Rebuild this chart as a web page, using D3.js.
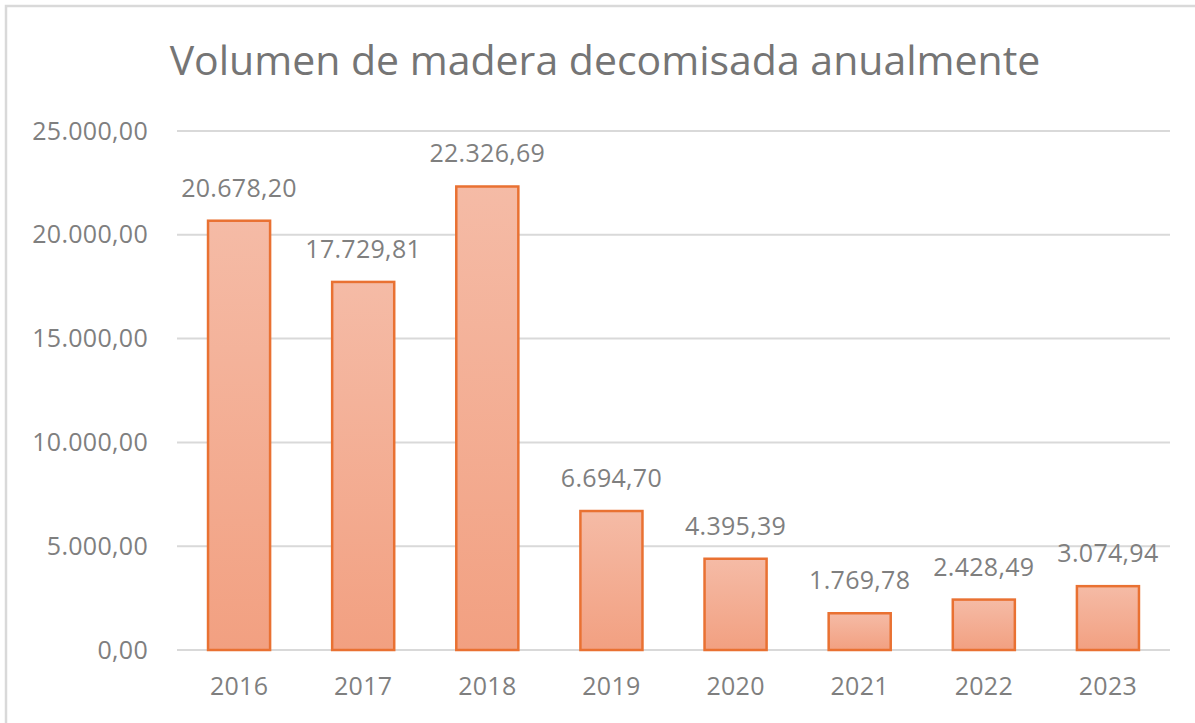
<!DOCTYPE html>
<html>
<head>
<meta charset="utf-8">
<script src="https://cdn.jsdelivr.net/npm/d3@7"></script>
<style>
  body { margin: 0; background: #fff; }
  svg { display: block; font-family: "Open Sans", "Noto Sans", sans-serif; }
</style>
</head>
<body>
<svg width="1195" height="723"></svg>
<script>
// data
const years = ['2016','2017','2018','2019','2020','2021','2022','2023'];
const volumes = [20678.20, 17729.81, 22326.69, 6694.70, 4395.39, 1769.78, 2428.49, 3074.94];
const yTicks = [0, 5000, 10000, 15000, 20000, 25000];

const svg = d3.select('svg');
const txtColor = '#7f7f7f';

// number format es: 25.000,00
const esLocale = d3.formatLocale({decimal: ',', thousands: '.', grouping: [3], currency: ['', '']});
const fmt = esLocale.format(',.2f');

// outer frame (only top/left visible in the reference)
svg.append('rect')
  .attr('x', 6).attr('y', 6)
  .attr('width', 1200).attr('height', 730)
  .attr('fill', '#fff')
  .attr('stroke', '#d9d9d9')
  .attr('stroke-width', 2.5);

svg.append('text')
  .attr('x', 605).attr('y', 75)
  .attr('text-anchor', 'middle')
  .attr('fill', '#757575')
  .attr('font-size', 41)
  .text('Volumen de madera decomisada anualmente');

const plotL = 177, plotR = 1170, plotT = 131, plotB = 650;

const y = d3.scaleLinear().domain([0, 25000]).range([plotB, plotT]);
const x = d3.scaleBand().domain(years).range([plotL, plotR])
  .paddingInner(0.5).paddingOuter(0.25);

// gradient for bars
const defs = svg.append('defs');
const grad = defs.append('linearGradient')
  .attr('id', 'barGrad')
  .attr('x1', 0).attr('y1', 0).attr('x2', 0).attr('y2', 1);
grad.append('stop').attr('offset', '0%').attr('stop-color', '#f5bba6');
grad.append('stop').attr('offset', '100%').attr('stop-color', '#f2a081');

// gridlines
svg.append('g')
  .selectAll('line')
  .data(yTicks)
  .join('line')
  .attr('x1', plotL).attr('x2', plotR)
  .attr('y1', d => y(d)).attr('y2', d => y(d))
  .attr('stroke', '#d9d9d9')
  .attr('stroke-width', 2);

// y axis labels
const yAxis = svg.append('g')
  .attr('transform', `translate(${plotL - 29},0)`)
  .call(d3.axisLeft(y).tickValues(yTicks).tickFormat(fmt).tickSize(0).tickPadding(0));
yAxis.select('.domain').remove();
yAxis.selectAll('text')
  .attr('fill', txtColor)
  .attr('font-size', 25)
  .attr('letter-spacing', 0.3)
  .attr('font-family', '"Open Sans", "Noto Sans", sans-serif');

// x axis labels
const xAxis = svg.append('g')
  .attr('transform', `translate(0,${plotB})`)
  .call(d3.axisBottom(x).tickSize(0).tickPadding(0));
xAxis.select('.domain').remove();
xAxis.selectAll('text')
  .attr('fill', txtColor)
  .attr('font-size', 25)
  .attr('letter-spacing', 0.3)
  .attr('y', 45)
  .attr('dy', 0)
  .attr('font-family', '"Open Sans", "Noto Sans", sans-serif');

// bars
svg.append('g')
  .selectAll('rect')
  .data(volumes)
  .join('rect')
  .attr('x', (d, i) => x(years[i]))
  .attr('y', d => y(d))
  .attr('width', x.bandwidth())
  .attr('height', d => plotB - y(d))
  .attr('fill', 'url(#barGrad)')
  .attr('stroke', '#e97132')
  .attr('stroke-width', 2.5);

// value labels
svg.append('g')
  .selectAll('text')
  .data(volumes)
  .join('text')
  .attr('x', (d, i) => x(years[i]) + x.bandwidth() / 2)
  .attr('y', d => y(d) - 24)
  .attr('text-anchor', 'middle')
  .attr('fill', txtColor)
  .attr('font-size', 25)
  .attr('letter-spacing', 0.3)
  .text(d => fmt(d));
</script>
</body>
</html>
